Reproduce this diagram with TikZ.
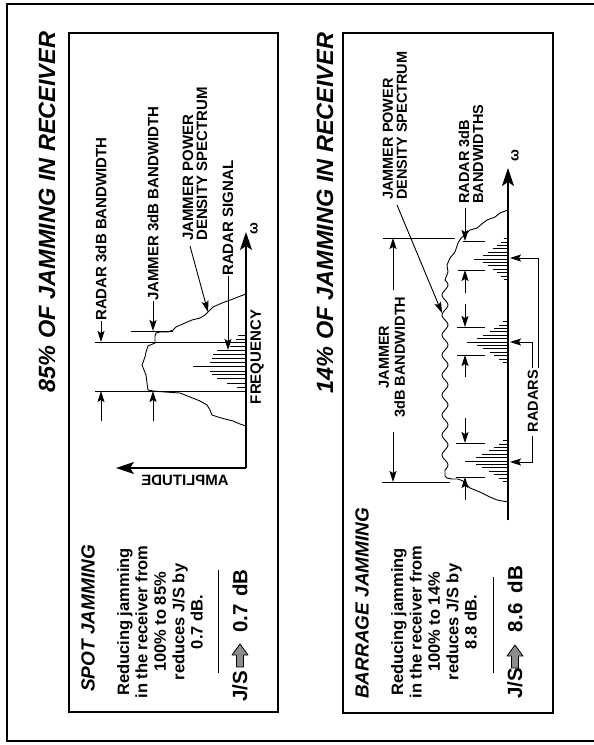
\documentclass[tikz,border=0pt]{standalone}
\usepackage{fontspec}
\setmainfont{Liberation Sans}
\usepackage{graphicx}
\usetikzlibrary{arrows.meta}
\begin{document}
\begin{tikzpicture}[x=1pt,y=-1pt,
  frame/.style={line width=2.2pt},
  box/.style={line width=2pt},
  axis/.style={line width=1.6pt,-{Stealth[length=18pt,width=12pt,inset=4pt]}},
  thinl/.style={line width=0.9pt},
  curve/.style={line width=0.9pt,line join=round},
  sarr/.style={line width=0.9pt,-{Stealth[length=11pt,width=7pt,inset=2pt]}},
  lblA/.style={font=\fontsize{15}{14}\selectfont\bfseries,inner sep=0pt,rotate=90},
  lblB/.style={font=\fontsize{14.5}{14}\selectfont\bfseries,inner sep=0pt,rotate=90},
  ttl/.style={font=\fontsize{23.5}{24}\selectfont\bfseries\itshape,inner sep=0pt,rotate=90},
  head/.style={font=\fontsize{19}{20}\selectfont\bfseries\itshape,inner sep=0pt,rotate=90,anchor=west},
  body/.style={font=\fontsize{16.5}{18.4}\selectfont\bfseries,inner sep=0pt,rotate=90,align=center},
  big/.style={font=\fontsize{20.5}{22}\selectfont\bfseries,inner sep=0pt,rotate=90},
  fat/.style={line width=0.8pt,fill=black!45,line join=round}]
\useasboundingbox (0,0) rectangle (594,745);

% frames
\draw[frame] (594,4) -- (7,4) -- (7,741) -- (594,741);
\draw[box] (69,33) rectangle (278,712);
\draw[box] (343,33) rectangle (553,713);

% titles
\node[ttl] (t1) at (47,212) {85\% OF JAMMING IN RECEIVER};
\node[ttl] (t2) at (325,213) {14\% OF JAMMING IN RECEIVER};

% ================= PANEL 1 : SPOT JAMMING =================
\coordinate (o1) at (246,468);
\coordinate (f1) at (246,232);
\coordinate (a1) at (116,468);
\draw[axis] (o1) -- (f1);
\draw[axis] (o1) -- (a1);
\node[lblA,font=\fontsize{14}{14}\selectfont\bfseries] (w1) at (254,229) {ω};
\node[lblA,rotate=-90] (amp) at (185,480) {\reflectbox{AMPLITUDE}};
\node[lblA] (freq) at (257,357) {FREQUENCY};

% bandwidth edge lines
\coordinate (r1a) at (95,342);  \coordinate (r1b) at (246,342);
\coordinate (r2a) at (95,391);  \coordinate (r2b) at (246,391);
\coordinate (j1a) at (131,331); \coordinate (j1b) at (173,331);
\draw[thinl] (r1a) -- (r1b);
\draw[thinl] (r2a) -- (r2b);
\draw[thinl] (j1a) -- (j1b);

% radar signal lines
\foreach \y/\x in {335/238,339/236,346/230,350/217,354/213,358/212,362/210,366.5/193,371/210,374/212,378/217,383/227,387/237}
  \draw[thinl] (\x,\y) -- (246,\y);

% jammer spectrum
\draw[curve] (246,294) -- (238,297) -- (233,299) -- (222,303) -- (213,307) -- (209,311) -- (205,315) -- (200,318) -- (192,320) -- (185,323) -- (176,327) -- (173,330) -- (168,332) -- (160,332) -- (156,333) -- (155,336) -- (155,343) -- (148,346) -- (146,352) -- (145,357) -- (142,365) -- (144,370) -- (146,375) -- (147,383) -- (148,390) -- (153,391) -- (165,392) -- (180,393) -- (190,397) -- (200,401) -- (207,405) -- (210,410) -- (212,415) -- (218,417) -- (225,419) -- (233,421) -- (240,424) -- (246,426);

% labels and arrows
\node[lblA,anchor=west] (rl1) at (101,321) {RADAR 3dB BANDWIDTH};
\coordinate (rl1t) at (101,342);
\draw[sarr] (rl1.west) -- (rl1t);
\coordinate (rl2s) at (101,421); \coordinate (rl2t) at (101,391);
\draw[sarr] (rl2s) -- (rl2t);

\node[lblA,anchor=west] (jl1) at (153,301) {JAMMER 3dB BANDWIDTH};
\coordinate (jl1t) at (153,331);
\draw[sarr] (jl1.west) -- (jl1t);
\coordinate (jl2s) at (153,421); \coordinate (jl2t) at (153,391);
\draw[sarr] (jl2s) -- (jl2t);

\node[lblA,anchor=west,align=left] (jp1) at (195,241) {JAMMER POWER\\DENSITY SPECTRUM};
\coordinate (jp1s) at (190,246); \coordinate (jp1t) at (208,312);
\draw[sarr] (jp1s) -- (jp1t);

\node[lblA,anchor=west] (rs1) at (228,276) {RADAR SIGNAL};
\coordinate (rs1t) at (228,350);
\draw[sarr] (rs1.west) -- (rs1t);

% text block
\node[head] (h1) at (88,692) {SPOT JAMMING};
\node[body] (b1) at (160,622) {Reducing jamming\\in the receiver from\\100\% to 85\%\\reduces J/S by\\0.7 dB.};
\coordinate (ru1a) at (218,570); \coordinate (ru1b) at (218,673);
\draw[thinl] (ru1a) -- (ru1b);
\node[big,anchor=west] (js1) at (240,702) {J/S};
\draw[fat] (240,644) -- (248,655) -- (243.5,655) -- (243.5,667) -- (236.5,667) -- (236.5,655) -- (232,655) -- cycle;
\node[big] (n1) at (240,601) {0.7\hspace{0.35em}dB};

% ================= PANEL 2 : BARRAGE JAMMING =================
\coordinate (o2) at (508,520);
\coordinate (f2) at (508,168);
\draw[axis] (o2) -- (f2);
\node[lblB,font=\fontsize{14}{14}\selectfont\bfseries] (w2) at (515,156) {ω};

% radar spectra
\foreach \c/\m in {259/34,342/41,461/43}{
  \foreach \k/\f in {-6/0.12,-5/0.22,-4/0.33,-3/0.45,-2/0.6,-1/0.75,0/1,1/0.75,2/0.6,3/0.45,4/0.33,5/0.22,6/0.12}{
    \draw[thinl] ({508-\m*\f},{\c+3.4*\k}) -- (508,{\c+3.4*\k});
  }
}

% radar bandwidth edges
\foreach \y/\x in {241/463,270/458,327/457,355/457,443/456,477/456}
  \draw[thinl] (\x,\y) -- (485,\y);

% jammer spectrum
\draw[curve] (508,210) -- (500,213) -- (495,217) -- (487,220) -- (483,223) -- (477,228) -- (470,230) -- (465,235) -- (461,238) -- (458,243) -- (455,252) -- (450,258) -- (447,265) -- (448,272) -- (445,280);
\draw[curve] plot[domain=280:470,samples=96,smooth] ({445+3*sin(\x*18)},\x);
\draw[curve] (445,470) -- (445,476) -- (447,478) -- (452,479) -- (458,479) -- (463,481) -- (470,488) -- (480,492) -- (490,497) -- (497,500) -- (508,502);

% jammer bandwidth
\coordinate (j2a) at (383,238); \coordinate (j2b) at (455,238);
\coordinate (j3a) at (382,482); \coordinate (j3b) at (450,482);
\draw[thinl] (j2a) -- (j2b);
\draw[thinl] (j3a) -- (j3b);
\node[lblB,align=center,font=\fontsize{14.5}{16}\selectfont\bfseries] (jl3) at (392,357) {JAMMER\\3dB BANDWIDTH};
\coordinate (jb1s) at (393,290); \coordinate (jb1t) at (393,238);
\coordinate (jb2s) at (393,432); \coordinate (jb2t) at (393,482);
\draw[sarr] (jb1s) -- (jb1t);
\draw[sarr] (jb2s) -- (jb2t);

% jammer power label
\node[lblB,anchor=west,align=left] (jp2) at (395,200) {JAMMER POWER\\DENSITY SPECTRUM};
\coordinate (jp2s) at (397,205); \coordinate (jp2t) at (442,313);
\draw[sarr] (jp2s) -- (jp2t);

% radar bandwidth label and arrows
\node[lblB,anchor=west,align=left] (rb2) at (471,204) {RADAR 3dB\\BANDWIDTHS};
\coordinate (ra1s) at (465,208); \coordinate (ra1t) at (465,241);
\coordinate (ra2s) at (465,293); \coordinate (ra2t) at (465,270);
\coordinate (ra3s) at (465,304); \coordinate (ra3t) at (465,327);
\coordinate (ra4s) at (465,377); \coordinate (ra4t) at (465,355);
\coordinate (ra5s) at (465,418); \coordinate (ra5t) at (465,443);
\coordinate (ra6s) at (465,500); \coordinate (ra6t) at (465,477);
\foreach \i in {1,...,6} \draw[sarr] (ra\i s) -- (ra\i t);

% radars bracket
\node[lblB] (rd) at (533,401) {RADARS};
\coordinate (rda) at (538,368); \coordinate (rdb) at (538,258); \coordinate (rdc) at (510,258);
\coordinate (rdd) at (532,368); \coordinate (rde) at (532,342); \coordinate (rdf) at (510,342);
\coordinate (rdg) at (532,436); \coordinate (rdh) at (532,462); \coordinate (rdi) at (510,462);
\draw[sarr] (rda) -- (rdb) -- (rdc);
\draw[sarr] (rdd) -- (rde) -- (rdf);
\draw[sarr] (rdg) -- (rdh) -- (rdi);

% text block
\node[head] (h2) at (362,699) {BARRAGE JAMMING};
\node[body] (b2) at (434,622) {Reducing jamming\\in the receiver from\\100\% to 14\%\\reduces J/S by\\8.8 dB.};
\coordinate (ru2a) at (493,577); \coordinate (ru2b) at (493,673);
\draw[thinl] (ru2a) -- (ru2b);
\node[big,anchor=west] (js2) at (515,699) {J/S};
\draw[fat] (515,645) -- (523,656) -- (518.5,656) -- (518.5,668) -- (511.5,668) -- (511.5,656) -- (507,656) -- cycle;
\node[big] (n2) at (515,599) {8.6\hspace{0.5em}dB};
\end{tikzpicture}
\end{document}
